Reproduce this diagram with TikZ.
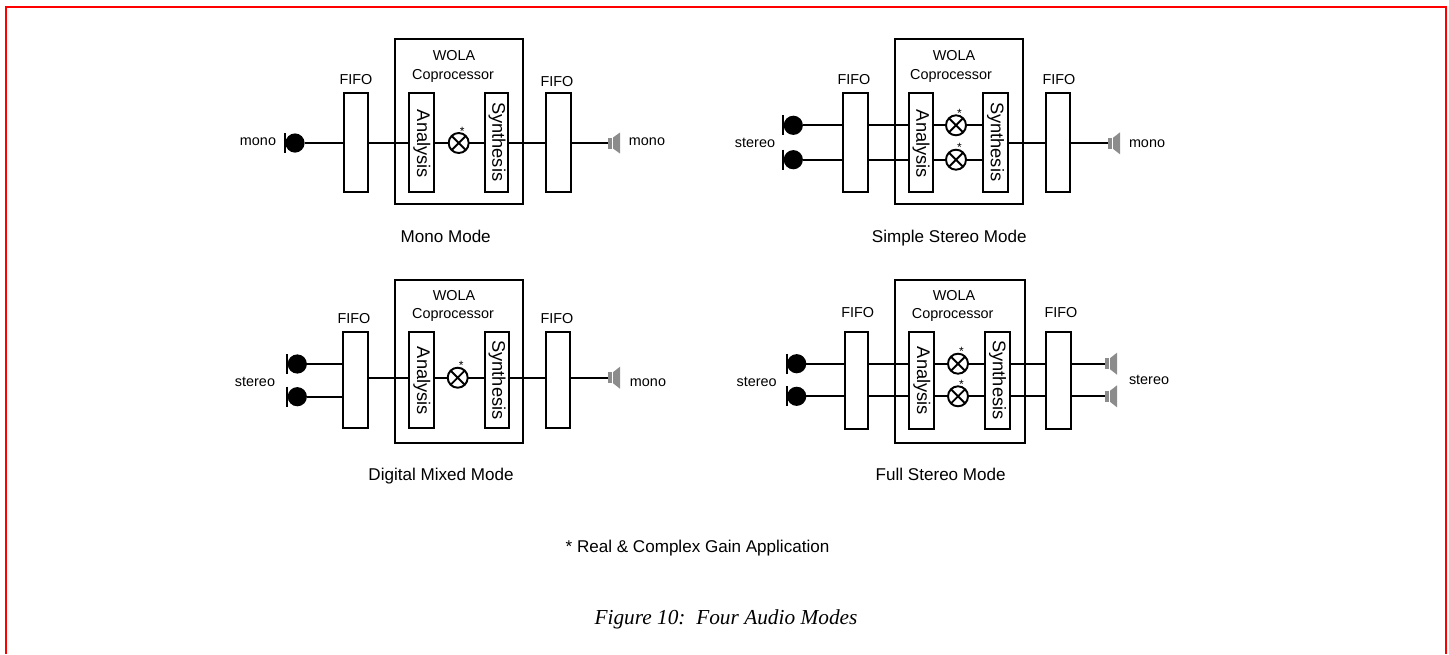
\documentclass[tikz,border=0pt]{standalone}
\usepackage{fontspec}
\setmainfont{Liberation Sans}
\newfontfamily\capfont{Liberation Serif}
\newcommand{\fsz}[1]{\fontsize{#1}{#1}\selectfont}
\tikzset{
  blk/.style={draw=black,line width=1.35pt,inner sep=0pt,outer sep=0pt,fill=none},
  wire/.style={draw=black,line width=1.3pt},
  lab/.style={inner sep=0pt,anchor=base,font=\fsz{10.8}},
  ttl/.style={inner sep=0pt,anchor=base,font=\fsz{12.8}},
  vtext/.style={inner sep=0pt,rotate=-90,font=\fsz{13.7}},
  micdot/.style={circle,fill=black,inner sep=0pt,minimum size=14.4pt,outer sep=0pt},
  micbar/.style={draw=black,line width=1.6pt},
  mulnode/.style={circle,draw=black,line width=1.45pt,fill=white,inner sep=0pt,outer sep=0pt,minimum size=15pt,
    path picture={\draw[black,line width=1.4pt] (path picture bounding box.north west)--(path picture bounding box.south east)
    (path picture bounding box.north east)--(path picture bounding box.south west);}},
  spkneck/.style={fill=spkgray,draw=none,inner sep=0pt,outer sep=0pt},
  starlab/.style={inner sep=0pt,font=\fsz{9}},
}
\definecolor{spkgray}{RGB}{140,140,140}
% name, x0, x1, y0, y1
\newcommand{\mkbox}[5]{\node[blk,minimum width={(#3-#2)*0.75pt},minimum height={(#5-#4)*0.75pt}] (#1) at ({(#2+#3)/2},{(#4+#5)/2}) {};}
\newcommand{\mkmic}[3]{\node[micdot] (#1) at (#2,#3) {};\draw[micbar] (#2-10,#3-10)--(#2-10,#3+10);}
% name, x of neck left, y, half height of the cone
\newcommand{\mkspk}[4]{\node[spkneck,minimum width=3pt,minimum height=8.25pt] (#1) at (#2+2,#3) {};
  \fill[spkgray] (#2+5,#3-5.5)--(#2+12,#3-#4)--(#2+12,#3+#4)--(#2+5,#3+5.5)--cycle;}
\newcommand{\mkmul}[3]{\node[mulnode] (#1) at (#2,#3) {};\node[starlab] at (#2+3.5,#3-12) {*};}
\begin{document}
\begin{tikzpicture}[x=0.75pt,y=-0.75pt]
\useasboundingbox (0,0) rectangle (1449,654);
\draw[red,line width=1.5pt] (6,654)--(6,6.5)--(1446,6.5)--(1446,654);

% ---------- Mono Mode
\coordinate (ra) at (0,143);
\mkbox{oa}{394.7}{522.7}{39}{204.3}
\mkbox{fla}{344}{368.3}{93.3}{192.3}
\mkbox{ana}{408.7}{434.3}{92.7}{192}
\mkbox{syna}{484.7}{508.3}{92.7}{192}
\mkbox{fra}{546}{571}{93.3}{192.3}
\node[vtext] at (421.8,144) {Analysis};
\node[vtext] at (497,141.7) {Synthesis};
\mkmic{mica}{295}{143}
\mkmul{mula}{458.7}{143}
\mkspk{spka}{608}{143}{10.5}
\draw[wire] (mica.east)--(fla.west |- ra);
\draw[wire] (fla.east |- ra)--(ana.west |- ra);
\draw[wire] (ana.east |- ra)--(mula.west);
\draw[wire] (mula.east)--(syna.west |- ra);
\draw[wire] (syna.east |- ra)--(fra.west |- ra);
\draw[wire] (fra.east |- ra)--(spka.west);
\node[lab] at (258,145.7) {mono};
\node[lab] at (647,145.7) {mono};
\node[lab] at (356,84.3) {FIFO};
\node[lab] at (557,86) {FIFO};
\node[lab] at (454,60.7) {WOLA};
\node[lab] at (453,79) {Coprocessor};
\node[ttl] at (445.7,242.3) {Mono Mode};

% ---------- Simple Stereo Mode
\coordinate (rb) at (0,143.3);
\mkbox{ob}{894.7}{1023}{39}{204.3}
\mkbox{flb}{842.7}{868}{93.3}{192.3}
\mkbox{anb}{909.3}{932.7}{92.7}{192}
\mkbox{synb}{983}{1008.3}{92.7}{192}
\mkbox{frb}{1045.7}{1069.7}{93.3}{192.3}
\node[vtext] at (921,144) {Analysis};
\node[vtext] at (995.5,141.7) {Synthesis};
\mkmic{micb}{793.3}{125.3}
\mkmic{micc}{793.3}{159.7}
\mkmul{mulb}{956}{125.3}
\mkmul{mulc}{956}{159.7}
\mkspk{spkb}{1108}{143.3}{11}
\draw[wire] (micb.east)--(flb.west |- micb);
\draw[wire] (micc.east)--(flb.west |- micc);
\draw[wire] (flb.east |- micb)--(anb.west |- micb);
\draw[wire] (flb.east |- micc)--(anb.west |- micc);
\draw[wire] (anb.east |- micb)--(mulb.west);
\draw[wire] (anb.east |- micc)--(mulc.west);
\draw[wire] (mulb.east)--(synb.west |- mulb);
\draw[wire] (mulc.east)--(synb.west |- mulc);
\draw[wire] (synb.east |- rb)--(frb.west |- rb);
\draw[wire] (frb.east |- rb)--(spkb.west);
\node[lab] at (755,147.3) {stereo};
\node[lab] at (1147,147.3) {mono};
\node[lab] at (854,84.3) {FIFO};
\node[lab] at (1059,84.3) {FIFO};
\node[lab] at (954,60.7) {WOLA};
\node[lab] at (951,79) {Coprocessor};
\node[ttl] at (949.3,242.3) {Simple Stereo Mode};

% ---------- Digital Mixed Mode
\coordinate (rd) at (0,377.7);
\mkbox{od}{394.7}{522.7}{279.7}{442.7}
\mkbox{fld}{342.7}{368}{331.7}{428.3}
\mkbox{and}{408.7}{434.3}{331.7}{428.3}
\mkbox{synd}{484.7}{508.7}{331.7}{428.3}
\mkbox{frd}{546}{570}{331.7}{428.3}
\node[vtext] at (421.8,381) {Analysis};
\node[vtext] at (497,380) {Synthesis};
\mkmic{micd}{297.3}{364}
\mkmic{mice}{297.3}{396.7}
\mkmul{muld}{457.7}{377.7}
\mkspk{spkd}{608}{377.7}{11}
\draw[wire] (micd.east)--(fld.west |- micd);
\draw[wire] (mice.east)--(fld.west |- mice);
\draw[wire] (fld.east |- rd)--(and.west |- rd);
\draw[wire] (and.east |- rd)--(muld.west);
\draw[wire] (muld.east)--(synd.west |- rd);
\draw[wire] (synd.east |- rd)--(frd.west |- rd);
\draw[wire] (frd.east |- rd)--(spkd.west);
\node[lab] at (255,386) {stereo};
\node[lab] at (648,386) {mono};
\node[lab] at (354,323.3) {FIFO};
\node[lab] at (557,323.3) {FIFO};
\node[lab] at (454,300) {WOLA};
\node[lab] at (453,318.3) {Coprocessor};
\node[ttl] at (441,480.7) {Digital Mixed Mode};

% ---------- Full Stereo Mode
\mkbox{oe}{894.7}{1024.7}{279.7}{442.7}
\mkbox{fle}{844.7}{867.7}{331.7}{428.7}
\mkbox{ane}{909.3}{934}{331.7}{428.7}
\mkbox{syne}{984.7}{1010}{331.7}{428.7}
\mkbox{fre}{1046}{1071}{331.7}{428.7}
\node[vtext] at (921.8,381) {Analysis};
\node[vtext] at (997.5,380) {Synthesis};
\mkmic{micf}{796.7}{363.7}
\mkmic{micg}{796.7}{396.3}
\mkmul{mulf}{958}{363.7}
\mkmul{mulg}{958}{396.3}
\mkspk{spkf}{1105}{363.7}{11}
\mkspk{spkg}{1105}{396.3}{11}
\draw[wire] (micf.east)--(fle.west |- micf);
\draw[wire] (micg.east)--(fle.west |- micg);
\draw[wire] (fle.east |- micf)--(ane.west |- micf);
\draw[wire] (fle.east |- micg)--(ane.west |- micg);
\draw[wire] (ane.east |- micf)--(mulf.west);
\draw[wire] (ane.east |- micg)--(mulg.west);
\draw[wire] (mulf.east)--(syne.west |- mulf);
\draw[wire] (mulg.east)--(syne.west |- mulg);
\draw[wire] (syne.east |- mulf)--(fre.west |- mulf);
\draw[wire] (syne.east |- mulg)--(fre.west |- mulg);
\draw[wire] (fre.east |- spkf)--(spkf.west);
\draw[wire] (fre.east |- spkg)--(spkg.west);
\node[lab] at (756.7,386) {stereo};
\node[lab] at (1149,384) {stereo};
\node[lab] at (857.7,317.7) {FIFO};
\node[lab] at (1061,317.7) {FIFO};
\node[lab] at (954,300) {WOLA};
\node[lab] at (952.7,318.3) {Coprocessor};
\node[ttl] at (940.7,480.7) {Full Stereo Mode};

% ---------- Notes
\node[ttl] (note) at (697.5,552.7) {* Real \& Complex Gain Application};
\node[inner sep=0pt,anchor=base,font=\capfont\itshape\fsz{16}] (cap) at (726,624.5) {Figure 10:\ \ Four Audio Modes};
\end{tikzpicture}
\end{document}
